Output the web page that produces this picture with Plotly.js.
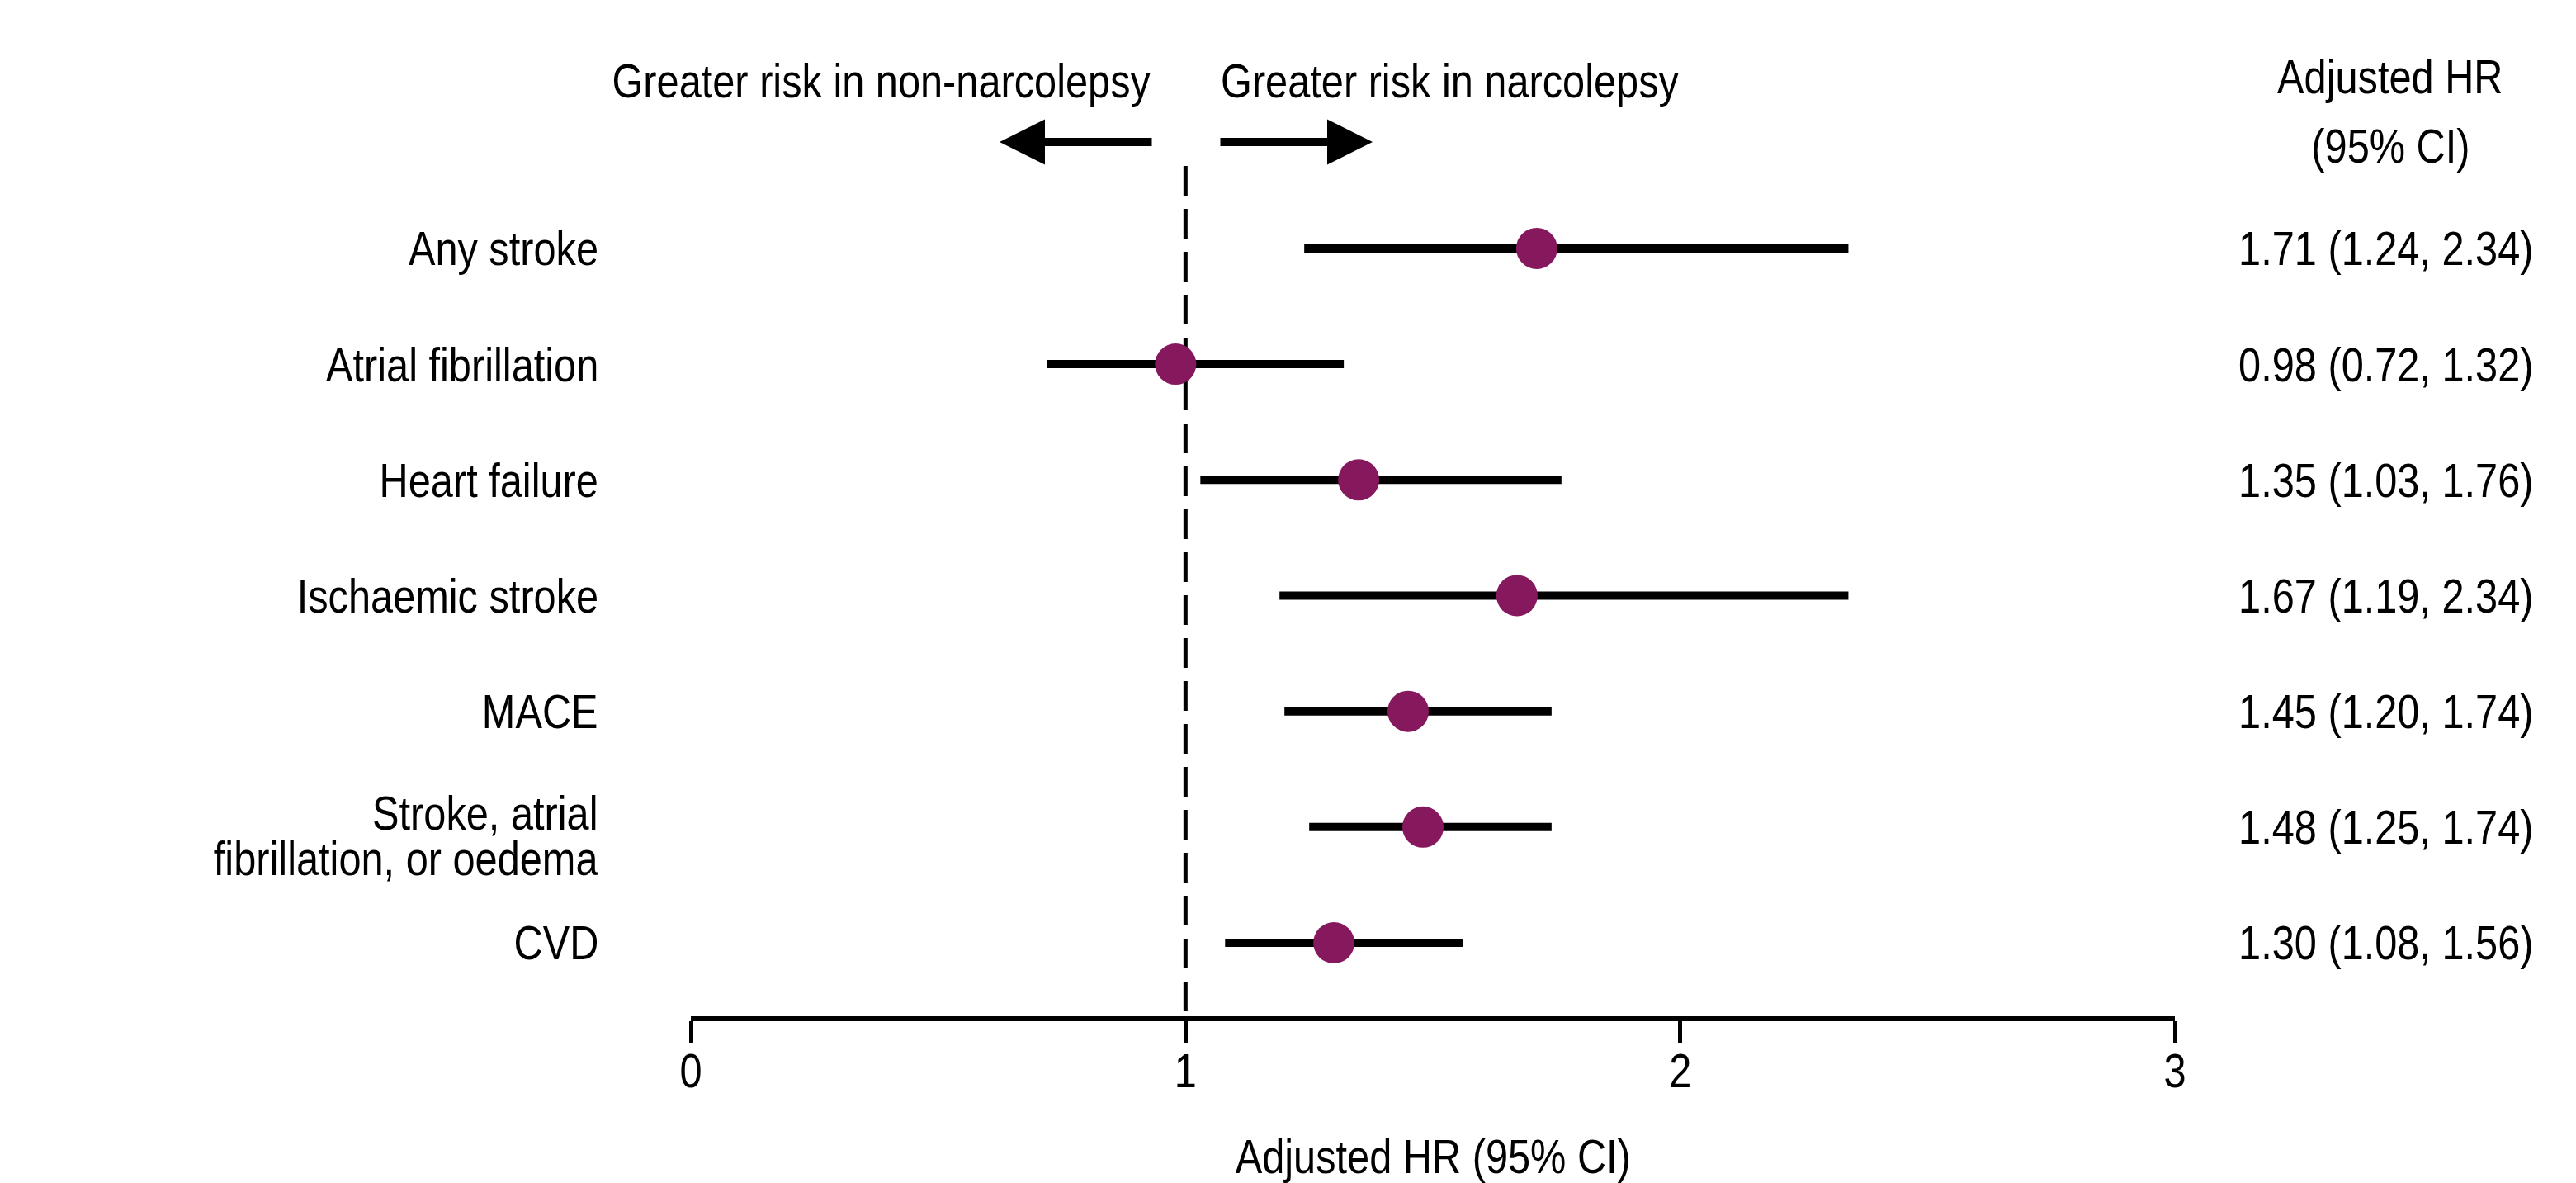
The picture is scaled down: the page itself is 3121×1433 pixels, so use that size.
<!DOCTYPE html>
<html>
<head>
<meta charset="utf-8">
<script src="https://cdn.plot.ly/plotly-3.0.1.min.js"></script>
<style>html,body{margin:0;padding:0;background:#fff;}#chart{width:3121px;height:1433px;}</style>
</head>
<body>
<div id="chart"></div>
<script>
// ---- data ----
const outcomes = ['Any stroke', 'Atrial fibrillation', 'Heart failure', 'Ischaemic stroke', 'MACE', 'Stroke, atrial<br>fibrillation, or oedema', 'CVD'];
const hrValues = [1.71, 0.98, 1.35, 1.67, 1.45, 1.48, 1.30];
const ciLower = [1.24, 0.72, 1.03, 1.19, 1.20, 1.25, 1.08];
const ciUpper = [2.34, 1.32, 1.76, 2.34, 1.74, 1.74, 1.56];
const xTicks = [0, 1, 2, 3];
const xTickLabels = ['0', '1', '2', '3'];
const referenceHR = 1;
const leftNote = 'Greater risk in non-narcolepsy';
const rightNote = 'Greater risk in narcolepsy';
const colHeader = ['Adjusted HR', '(95% CI)'];
const xTitle = 'Adjusted HR (95% CI)';

// ---- layout helpers ----
const W = 3121, H = 1433;
const px = v => v / W;
const py = v => 1 - v / H;
const FONT = '"Liberation Sans", Arial, sans-serif';
const FS = 58;
const NARROW = 0.84; // horizontal condensing to imitate a narrow sans
const LINE_EM = 0.95; // tight line pitch for wrapped labels
const purple = '#86185E';

const rowIdx = outcomes.map((_, i) => i);
const ciText = hrValues.map((v, i) => `${v.toFixed(2)} (${ciLower[i].toFixed(2)}, ${ciUpper[i].toFixed(2)})`);

const trace = {
  type: 'scatter',
  mode: 'markers',
  x: hrValues,
  y: rowIdx,
  marker: {size: 50, color: purple, line: {width: 0}},
  error_x: {
    type: 'data', symmetric: false,
    array: hrValues.map((v, i) => ciUpper[i] - v),
    arrayminus: hrValues.map((v, i) => v - ciLower[i]),
    thickness: 10, width: 0, color: '#000'
  },
  hoverinfo: 'skip',
  showlegend: false
};

const f = {family: FONT, size: FS, color: '#000'};
const annotations = [];
// row labels
outcomes.forEach((lab, i) => {
  const multi = lab.indexOf('<br>') >= 0;
  annotations.push({xref: 'paper', yref: 'y', x: px(727), y: i, xanchor: 'right', align: 'right',
    yanchor: 'middle', yshift: multi ? -20 : 0, text: lab, showarrow: false, font: f});
  // CI text
  annotations.push({xref: 'paper', yref: 'y', x: px(2891), y: i, xanchor: 'center', yanchor: 'middle',
    text: ciText[i], showarrow: false, font: f});
});
// header
annotations.push({xref: 'paper', yref: 'paper', x: px(2896), y: py(93), xanchor: 'center', yanchor: 'middle',
  text: colHeader[0], showarrow: false, font: f});
annotations.push({xref: 'paper', yref: 'paper', x: px(2896), y: py(177), xanchor: 'center', yanchor: 'middle',
  text: colHeader[1], showarrow: false, font: f});
// direction notes
annotations.push({xref: 'paper', yref: 'paper', x: px(1396), y: py(97), xanchor: 'right', align: 'right', yanchor: 'middle',
  text: leftNote, showarrow: false, font: f});
annotations.push({xref: 'paper', yref: 'paper', x: px(1477), y: py(97), xanchor: 'left', align: 'left', yanchor: 'middle',
  text: rightNote, showarrow: false, font: f});
// arrows
annotations.push({xref: 'paper', yref: 'paper', x: px(1211), y: py(172), ax: 186, ay: 0, axref: 'pixel', ayref: 'pixel',
  text: '', showarrow: true, arrowhead: 2, arrowsize: 1.1, arrowwidth: 10, arrowcolor: '#000', standoff: 0});
annotations.push({xref: 'paper', yref: 'paper', x: px(1663), y: py(172), ax: -186, ay: 0, axref: 'pixel', ayref: 'pixel',
  text: '', showarrow: true, arrowhead: 2, arrowsize: 1.1, arrowwidth: 10, arrowcolor: '#000', standoff: 0});
// x axis title
annotations.push({xref: 'paper', yref: 'paper', x: px(1736), y: py(1400), xanchor: 'center', yanchor: 'middle',
  text: xTitle, showarrow: false, font: f});

const layout = {
  width: W, height: H, autosize: false,
  margin: {l: 0, r: 0, t: 0, b: 0, pad: 0},
  paper_bgcolor: '#fff', plot_bgcolor: '#fff',
  font: f,
  xaxis: {
    domain: [px(837), px(2635)],
    range: [0, 3], tickvals: xTicks, ticktext: xTickLabels,
    showline: true, linewidth: 6, linecolor: '#000',
    ticks: 'outside', ticklen: 26, tickwidth: 5, tickcolor: '#000',
    ticklabelstandoff: -16,
    showgrid: false, zeroline: false,
    tickfont: f
  },
  yaxis: {
    domain: [py(1231), py(201)],
    range: [6.635, -0.713],
    showline: false, showgrid: false, zeroline: false, showticklabels: false, ticks: ''
  },
  shapes: [{
    type: 'line', xref: 'x', yref: 'paper', x0: referenceHR, x1: referenceHR, y0: py(201), y1: py(1240),
    line: {color: '#000', width: 5, dash: '36px,16px'}, layer: 'below'
  }],
  annotations: annotations
};

Plotly.newPlot('chart', [trace], layout, {displayModeBar: false, staticPlot: true}).then(gd => {
  gd.querySelectorAll('svg text').forEach(t => {
    if (t.getAttribute('data-narrow')) return;
    // tighten wrapped-line pitch
    t.querySelectorAll('tspan.line').forEach((ln, k) => {
      if (k > 0) ln.setAttribute('dy', (k * LINE_EM) + 'em');
    });
    const x = parseFloat(t.getAttribute('x')) || 0;
    const tr = t.getAttribute('transform') || '';
    t.setAttribute('transform', `${tr} translate(${x},0) scale(${NARROW},1) translate(${-x},0)`.trim());
    t.setAttribute('data-narrow', '1');
  });
});
</script>
</body>
</html>
